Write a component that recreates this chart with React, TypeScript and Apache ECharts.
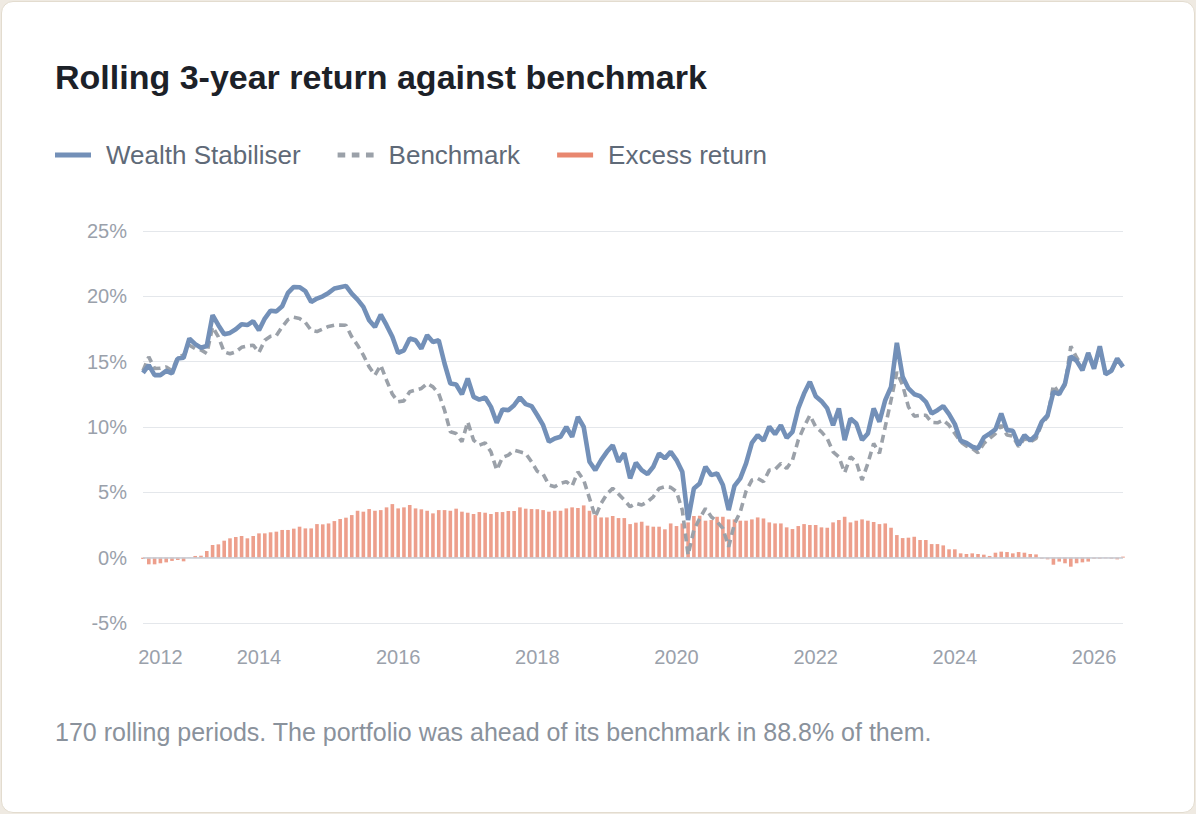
import React, { useEffect, useRef } from "react";
import * as echarts from "echarts";

const FONT = '"Liberation Sans", Arial, Helvetica, sans-serif';

const TITLE = "Rolling 3-year return against benchmark";
const FOOTNOTE =
  "170 rolling periods. The portfolio was ahead of its benchmark in 88.8% of them.";

const SERIES_NAMES = ["Wealth Stabiliser", "Benchmark", "Excess return"];

// monthly rolling periods, May 2012 .. Jun 2026 (170 periods)
const START_YEAR = 2012;
const START_MONTH = 5;
const PERIOD_COUNT = 170;
const months: string[] = [];
for (let k = 0; k < PERIOD_COUNT; k++) {
  const m0 = START_MONTH - 1 + k;
  const y = START_YEAR + Math.floor(m0 / 12);
  const m = (m0 % 12) + 1;
  months.push(`${y}-${m < 10 ? "0" + m : m}`);
}

// periods at which the year labels are printed
const xLabelMonths = [
  "2012-08",
  "2014-01",
  "2016-01",
  "2018-01",
  "2020-01",
  "2022-01",
  "2024-01",
  "2026-01",
];

// y axis ticks (%)
const Y_MIN = -5;
const Y_MAX = 25;
const Y_STEP = 5;

const wealth = [
  14.14, 14.73, 13.97, 13.97, 14.3, 14.1, 15.24, 15.3, 16.77, 16.34,
  16.06, 16.2, 18.55, 17.79, 17.1, 17.2, 17.48, 17.87, 17.8, 18.1,
  17.4, 18.3, 18.9, 18.85, 19.24, 20.26, 20.72, 20.7, 20.4, 19.57,
  19.83, 20.0, 20.26, 20.6, 20.7, 20.8, 20.2, 19.75, 19.19, 18.17,
  17.66, 18.6, 17.79, 16.9, 15.67, 15.87, 16.77, 16.64, 16.0, 17.02,
  16.51, 16.64, 14.86, 13.33, 13.25, 12.51, 13.71, 12.31, 12.1, 12.26,
  11.54, 10.32, 11.34, 11.29, 11.67, 12.26, 11.75, 11.6, 10.9, 10.14,
  8.87, 9.12, 9.25, 10.0, 9.25, 10.78, 10.0, 7.34, 6.7, 7.47,
  8.1, 8.61, 7.34, 7.98, 6.07, 7.26, 6.7, 6.4, 6.96, 7.98,
  7.6, 8.1, 7.47, 6.57, 2.88, 5.3, 5.68, 6.96, 6.32, 6.45,
  5.56, 3.64, 5.5, 6.07, 7.21, 8.79, 9.38, 8.95, 10.02, 9.45,
  10.14, 9.17, 9.63, 11.42, 12.56, 13.46, 12.36, 11.98, 11.42, 10.14,
  11.42, 9.0, 10.65, 10.27, 9.0, 9.5, 11.42, 10.4, 12.05, 13.07,
  16.44, 13.84, 12.95, 12.51, 12.36, 11.93, 11.03, 11.29, 11.6, 10.98,
  10.22, 8.95, 8.79, 8.49, 8.36, 9.2, 9.5, 9.81, 11.03, 9.76,
  9.71, 8.61, 9.38, 8.95, 9.38, 10.4, 10.9, 12.69, 12.51, 13.33,
  15.42, 15.06, 14.35, 15.67, 14.47, 16.18, 14.04, 14.3, 15.24, 14.6,
];

const benchmark = [
  14.3, 15.37, 14.48, 14.5, 14.6, 14.3, 15.37, 15.5, 16.26, 16.0,
  15.9, 15.63, 17.66, 16.9, 15.75, 15.6, 15.75, 16.1, 16.2, 16.26,
  15.7, 16.64, 16.94, 17.0, 17.66, 18.22, 18.4, 18.3, 18.0, 17.4,
  17.3, 17.5, 17.7, 17.8, 17.8, 17.79, 16.9, 16.26, 15.5, 14.6,
  13.97, 14.73, 13.58, 12.51, 11.93, 12.0, 12.7, 12.82, 12.95, 13.33,
  13.07, 12.56, 11.29, 9.63, 9.5, 8.87, 10.4, 9.0, 8.61, 8.79,
  8.1, 6.7, 7.67, 7.85, 8.23, 8.1, 7.98, 7.34, 6.6, 6.4,
  5.56, 5.43, 5.68, 5.81, 5.48, 6.57, 5.94, 4.54, 3.13, 4.15,
  4.87, 5.3, 4.87, 4.41, 3.9, 4.15, 4.03, 4.28, 4.66, 5.3,
  5.43, 5.38, 5.05, 3.64, 0.2, 2.12, 3.0, 3.77, 3.13, 2.75,
  2.24, 0.84, 2.6, 3.5, 5.1, 5.94, 6.07, 5.81, 6.7, 6.75,
  7.21, 6.83, 7.47, 9.0, 10.02, 10.9, 10.02, 9.63, 9.12, 8.1,
  7.72, 6.5, 7.72, 7.34, 5.94, 7.21, 8.74, 7.98, 10.02, 12.05,
  14.22, 13.2, 11.54, 10.83, 10.9, 10.9, 10.35, 10.32, 10.52, 10.14,
  9.5, 8.87, 8.54, 8.36, 8.03, 8.74, 9.12, 9.5, 10.14, 9.38,
  9.3, 8.49, 9.12, 8.87, 9.12, 10.27, 10.78, 13.2, 12.56, 13.2,
  16.18, 15.32, 14.6, 15.62, 14.47, 16.13, 14.04, 14.3, 15.16, 14.55,
];

const excess = [
  -0.1, -0.51, -0.51, -0.43, -0.36, -0.25, -0.18, -0.28, 0.02, 0.13,
  0.15, 0.51, 0.97, 1.02, 1.3, 1.48, 1.58, 1.66, 1.48, 1.66,
  1.86, 1.86, 1.94, 1.99, 2.12, 2.12, 2.22, 2.37, 2.24, 2.24,
  2.57, 2.55, 2.62, 2.8, 2.96, 3.06, 3.26, 3.59, 3.52, 3.72,
  3.59, 3.64, 3.85, 4.1, 3.77, 3.85, 4.03, 3.77, 3.7, 3.59,
  3.39, 3.64, 3.64, 3.59, 3.75, 3.52, 3.44, 3.34, 3.49, 3.44,
  3.34, 3.49, 3.49, 3.57, 3.57, 3.85, 3.75, 3.72, 3.71, 3.64,
  3.52, 3.59, 3.59, 3.77, 3.85, 3.8, 4.0, 3.59, 3.26, 3.08,
  3.08, 3.19, 3.03, 3.03, 2.57, 2.68, 2.75, 2.45, 2.37, 2.37,
  2.17, 2.62, 2.42, 2.62, 2.7, 3.19, 3.21, 2.83, 2.88, 3.13,
  3.13, 2.93, 2.93, 2.83, 2.83, 2.93, 3.08, 3.0, 2.7, 2.62,
  2.62, 2.32, 2.19, 2.42, 2.57, 2.5, 2.5, 2.32, 2.29, 2.7,
  2.88, 3.13, 2.7, 2.83, 2.93, 2.83, 2.73, 2.57, 2.62, 2.29,
  1.73, 1.5, 1.53, 1.6, 1.35, 1.35, 1.04, 1.04, 0.94, 0.64,
  0.64, 0.33, 0.28, 0.33, 0.28, 0.23, 0.13, 0.38, 0.46, 0.43,
  0.33, 0.43, 0.38, 0.28, 0.25, -0.08, -0.13, -0.54, -0.3, -0.43,
  -0.69, -0.43, -0.36, -0.3, -0.08, -0.08, -0.05, -0.08, -0.13, 0.08,
];

const BLUE = "#7390b8";
const GREY = "#9ba1a9";
const SALMON = "#e8876f";
const AXIS_TEXT = "#9aa1ab";
const GRID_LINE = "#e4e7eb";

export default function App() {
  const ref = useRef<HTMLDivElement | null>(null);

  useEffect(() => {
    document.body.style.margin = "0";
    if (!ref.current) return;
    const chart = echarts.init(ref.current, undefined, { renderer: "svg" });
    chart.setOption({
      animation: false,
      textStyle: { fontFamily: FONT },
      title: {
        text: TITLE,
        left: 55,
        top: 60,
        padding: 0,
        textStyle: {
          fontFamily: FONT,
          fontSize: 34,
          fontWeight: "bold",
          color: "#1c2128",
        },
      },
      legend: {
        left: 55,
        top: 142,
        padding: 0,
        itemGap: 37,
        itemWidth: 36,
        itemHeight: 5,
        symbolKeepAspect: false,
        selectedMode: false,
        textStyle: {
          fontFamily: FONT,
          fontSize: 26,
          color: "#5f6a78",
          padding: [0, 0, 0, 10],
        },
        data: [
          { name: SERIES_NAMES[0], icon: "rect", itemStyle: { color: BLUE } },
          {
            name: SERIES_NAMES[1],
            icon: "path://M0,0H7V5H0Z M13,0H20V5H13Z M26,0H33V5H26Z",
            itemStyle: { color: GREY },
          },
          {
            name: SERIES_NAMES[2],
            icon: "rect",
            itemStyle: { color: SALMON, opacity: 1 },
          },
        ],
      },
      grid: { left: 143, right: 73, top: 231, bottom: 191 },
      xAxis: {
        type: "category",
        data: months,
        boundaryGap: false,
        axisLine: { show: false },
        axisTick: { show: false },
        splitLine: { show: false },
        axisLabel: {
          interval: (_i: number, v: string) => xLabelMonths.indexOf(v) >= 0,
          formatter: (v: string) => v.slice(0, 4),
          fontFamily: FONT,
          fontSize: 20,
          color: AXIS_TEXT,
          margin: 24,
        },
      },
      yAxis: {
        type: "value",
        min: Y_MIN,
        max: Y_MAX,
        interval: Y_STEP,
        axisLine: { show: false },
        axisTick: { show: false },
        axisLabel: {
          formatter: "{value}%",
          fontFamily: FONT,
          fontSize: 20,
          color: AXIS_TEXT,
          margin: 16,
        },
        splitLine: { lineStyle: { color: GRID_LINE, width: 1.2 } },
      },
      series: [
        {
          name: SERIES_NAMES[2],
          type: "bar",
          data: excess,
          barWidth: "62%",
          itemStyle: { color: SALMON, opacity: 0.8 },
          markLine: {
            silent: true,
            symbol: "none",
            label: { show: false },
            lineStyle: { color: "#c8cdd4", width: 1.5, type: "solid" },
            data: [{ yAxis: 0 }],
          },
        },
        {
          name: SERIES_NAMES[1],
          type: "line",
          data: benchmark,
          symbol: "none",
          showSymbol: false,
          itemStyle: { color: GREY },
          lineStyle: { color: GREY, width: 3.6, type: [8, 5] },
        },
        {
          name: SERIES_NAMES[0],
          type: "line",
          data: wealth,
          symbol: "none",
          showSymbol: false,
          itemStyle: { color: BLUE },
          lineStyle: { color: BLUE, width: 4.6 },
        },
      ],
      graphic: [
        {
          type: "text",
          left: 55,
          top: 719,
          style: {
            text: FOOTNOTE,
            font: `25px ${FONT}`,
            fill: "#8a929c",
          },
        },
      ],
    });
    return () => chart.dispose();
  }, []);

  return (
    <div
      style={{
        position: "relative",
        width: 1196,
        height: 814,
        background: "#efeae2",
        overflow: "hidden",
      }}
    >
      <div
        style={{
          position: "absolute",
          left: 1,
          top: 1,
          width: 1194,
          height: 812,
          boxSizing: "border-box",
          background: "#ffffff",
          border: "1px solid #e3dccf",
          borderRadius: 12,
        }}
      />
      <div
        ref={ref}
        style={{ position: "absolute", left: 0, top: 0, width: 1196, height: 814 }}
      />
    </div>
  );
}
